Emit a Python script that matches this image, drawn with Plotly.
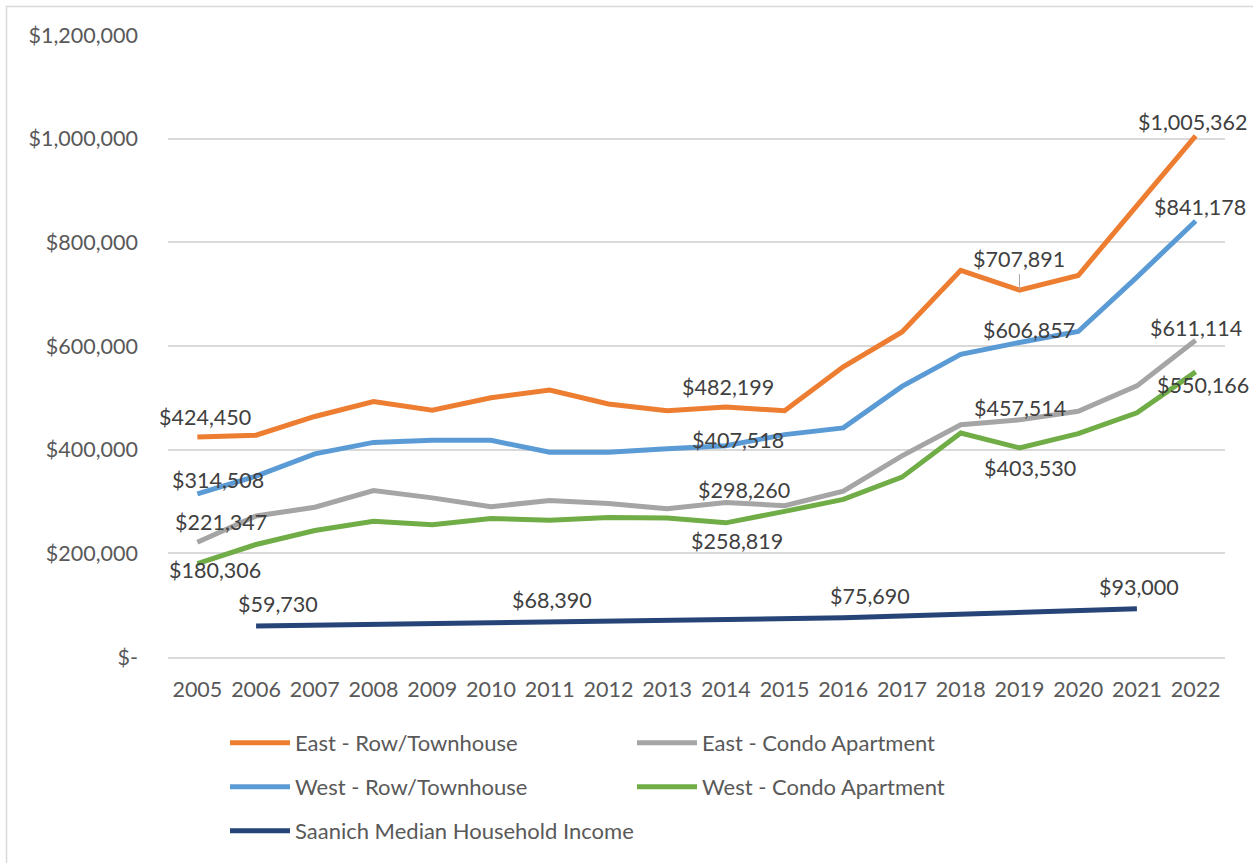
import plotly.graph_objects as go

years = [str(y) for y in range(2005, 2023)]

east_row = [424450, 428000, 464000, 493000, 476000, 500000, 515000, 488000, 475000,
            482199, 475000, 560000, 627000, 746000, 707891, 736000, 871000, 1005362]
west_row = [314508, 349000, 392000, 414000, 418000, 418000, 395000, 395000, 402000,
            407518, 429000, 442000, 522000, 584000, 606857, 628000, 733000, 841178]
east_condo = [221347, 272000, 289000, 321000, 307000, 290000, 302000, 296000, 286000,
              298260, 292000, 320000, 388000, 448000, 457514, 474000, 523000, 611114]
west_condo = [180306, 217000, 244000, 262000, 255000, 267000, 264000, 269000, 268000,
              258819, 281000, 304000, 347000, 432000, 403530, 431000, 471000, 550166]
income = [None, 59730, None, None, None, None, 68390, None, None,
          None, None, 75690, None, None, None, None, 93000, None]

names = ["East - Row/Townhouse", "West - Row/Townhouse", "East - Condo Apartment",
         "West - Condo Apartment", "Saanich Median Household Income"]
colors = ["#ED7D31", "#5B9BD5", "#A5A5A5", "#70AD47", "#264478"]
series = [east_row, west_row, east_condo, west_condo, income]
legend_ids = ["legend", "legend2", "legend", "legend2", "legend3"]

# labelled years per series and label offsets (px)
label_years = [["2005", "2014", "2019", "2022"],
               ["2005", "2014", "2019", "2022"],
               ["2005", "2014", "2019", "2022"],
               ["2005", "2014", "2019", "2022"],
               ["2006", "2011", "2016", "2021"]]
label_yshift = [[20, 20, None, 14],
                [14, 6, 12, 14],
                [20, 12, 12, 12],
                [-6, -18, -20, -13],
                [22, 22, 22, 22]]
label_xshift = [[8, 2, 0, -3],
                [21, 12, 10, 4],
                [24, 18, 1, 0],
                [18, 11, 11, 7],
                [22, 2, 27, 2]]

tick_vals = [0, 200000, 400000, 600000, 800000, 1000000, 1200000]
tick_text = ["$-", "$200,000", "$400,000", "$600,000", "$800,000", "$1,000,000", "$1,200,000"]

FONT = "Lato"
FS = 21.5
fig = go.Figure()
order = [0, 2, 1, 3, 4]
for i in order:
    fig.add_trace(go.Scatter(
        x=years, y=series[i], name=names[i], mode="lines",
        line=dict(color=colors[i], width=5), connectgaps=True,
        legend=legend_ids[i], hoverinfo="skip"))

annotations = []
for i in range(5):
    for yr, ys, xs in zip(label_years[i], label_yshift[i], label_xshift[i]):
        idx = years.index(yr)
        v = series[i][idx]
        txt = "${:,}".format(v)
        if ys is None:
            annotations.append(dict(x=idx, y=v, xref="x", yref="y", text=txt,
                                    showarrow=True, arrowhead=0, arrowwidth=1,
                                    arrowcolor="#A6A6A6", ax=xs, ay=-16, standoff=0,
                                    font=dict(family=FONT, size=FS, color="#404040"),
                                    yanchor="bottom"))
        else:
            annotations.append(dict(x=idx, y=v, xref="x", yref="y", text=txt,
                                    showarrow=False, yshift=ys, xshift=xs,
                                    font=dict(family=FONT, size=FS, color="#404040")))

def leg(ypix, ew=332):
    return dict(orientation="h", x=(225 - 168) / 1057, y=1 - (ypix - 35) / 623,
                xanchor="left", yanchor="middle", entrywidth=ew, entrywidthmode="pixels",
                itemwidth=60, font=dict(family=FONT, size=22, color="#595959"),
                bgcolor="rgba(0,0,0,0)")

fig.update_layout(
    width=1253, height=863,
    margin=dict(l=168, r=28, t=35, b=205),
    paper_bgcolor="white", plot_bgcolor="white",
    font=dict(family=FONT, size=FS, color="#595959"),
    xaxis=dict(type="category", range=[-0.5, 17.5], showgrid=False, showline=True,
               linecolor="#D9D9D9", linewidth=1.5, ticks="", ticklabelstandoff=12,
               tickfont=dict(family=FONT, size=FS, color="#595959"), fixedrange=True),
    yaxis=dict(range=[0, 1200000], tickvals=tick_vals, ticktext=tick_text,
               showgrid=True, gridcolor="#D9D9D9", gridwidth=1.5, zeroline=False,
               ticks="", ticklabelstandoff=29,
               tickfont=dict(family=FONT, size=FS, color="#595959"), fixedrange=True),
    annotations=annotations,
    legend=leg(743), legend2=leg(787), legend3=leg(831, 420),
    shapes=[dict(type="rect", xref="paper", yref="paper",
                 x0=(6.5 - 168) / 1057, x1=1.2, y0=-0.6, y1=1 + (35 - 6.5) / 623,
                 line=dict(color="#D9D9D9", width=1.5), fillcolor="rgba(0,0,0,0)",
                 layer="below")],
)

fig.write_html("out.html", config={"displayModeBar": False},
               post_script="document.body.style.margin='0';")
